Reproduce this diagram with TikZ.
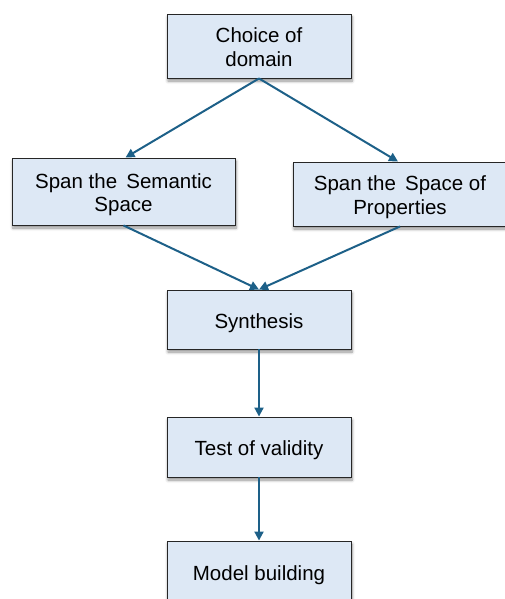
\documentclass[tikz,border=0pt]{standalone}
\usepackage{fontspec}
\setmainfont{Liberation Sans}
\usetikzlibrary{arrows.meta,shadows.blur}
\definecolor{boxfill}{HTML}{DDE8F5}
\definecolor{flow}{HTML}{1D6088}
% centred box text; extra head room pushes it a little below the box centre
\newcommand{\boxtext}[1]{\raisebox{0pt}[\dimexpr\height+8pt\relax][\depth]{\begin{tabular}{@{}c@{}}#1\end{tabular}}}
\tikzset{
  stepbox/.style={draw=black!85, line width=0.9pt, fill=boxfill,
    font=\fontsize{20.5}{23.5}\selectfont, inner sep=0pt,
    blur shadow={shadow xshift=1pt, shadow yshift=-3pt, shadow blur radius=3pt,
      shadow blur steps=6, shadow opacity=45}},
  flowarrow/.style={draw=flow, line width=2pt,
    -{Triangle[length=9pt,width=9pt]}}
}
\begin{document}
\begin{tikzpicture}[x=1pt,y=-1pt]
\useasboundingbox (0,0) rectangle (505,599);
\node[stepbox, minimum width=184pt, minimum height=64pt] (choice) at (259,46) {\boxtext{Choice of\\domain}};
\node[stepbox, minimum width=223pt, minimum height=67pt] (sem) at (123.5,191.5) {\boxtext{Span the\hspace{0.45em}Semantic\\Space}};
\node[stepbox, minimum width=214pt, minimum height=64pt] (prop) at (400,194) {\boxtext{Span the\hspace{0.45em}Space of\\Properties}};
\node[stepbox, minimum width=184pt, minimum height=59pt] (syn) at (259,319.5) {\boxtext{Synthesis}};
\node[stepbox, minimum width=184pt, minimum height=60pt] (test) at (259,447) {\boxtext{Test of validity}};
\node[stepbox, minimum width=184pt, minimum height=62pt] (model) at (259,572) {\boxtext{Model building}};
\draw[flowarrow] (choice.south) -- ([xshift=2pt]sem.north);
\draw[flowarrow] (choice.south) -- ([xshift=-2pt]prop.north);
\draw[flowarrow] (sem.south) -- (syn.north);
\draw[flowarrow] (prop.south) -- (syn.north);
\draw[flowarrow] (syn.south) -- (test.north);
\draw[flowarrow] (test.south) -- (model.north);
\end{tikzpicture}
\end{document}
